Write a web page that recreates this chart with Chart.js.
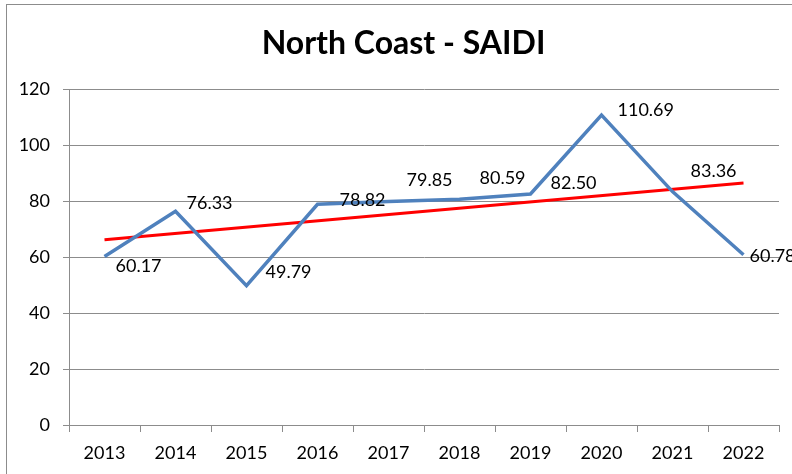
<!DOCTYPE html>
<html>
<head>
<meta charset="utf-8">
<title>North Coast - SAIDI</title>
<script src="https://cdn.jsdelivr.net/npm/chart.js@4/dist/chart.umd.min.js"></script>
<style>
  html, body { margin: 0; padding: 0; background: #fff; }
  canvas { display: block; }
</style>
</head>
<body>
<canvas id="saidiChart" width="792" height="474"></canvas>
<script>
// values
const years = ['2013', '2014', '2015', '2016', '2017', '2018', '2019', '2020', '2021', '2022'];
const saidi = [60.17, 76.33, 49.79, 78.82, 79.85, 80.59, 82.50, 110.69, 83.36, 60.78];
// linear trend line, only its two ends
const trend = [66.2, null, null, null, null, null, null, null, null, 86.4];
const yTicks = [0, 20, 40, 60, 80, 100, 120];

const FONT = 'Lato, "Open Sans", sans-serif';

// label nudges, in pixels from the point (like Excel's hand placed labels)
const labelNudge = [[11, 10], [11, -8], [19, -13], [22, -4], [18, -21], [20, -21], [20, -11], [16, -5], [18, -20], [6, 1]];

const frameAndLabels = {
    id: 'frameAndLabels',
    afterLayout(chart) {
        // centre the title over the whole frame, not just the layout box
        if (chart.titleBlock) {
            chart.titleBlock.left = 15;
            chart.titleBlock.right = 792;
        }
    },
    beforeDraw(chart) {
        const ctx = chart.ctx;
        ctx.save();
        ctx.strokeStyle = '#8c8c8c';
        ctx.lineWidth = 1;
        ctx.strokeRect(6.5, 4.5, 800, 480);
        ctx.restore();
    },
    afterDatasetsDraw(chart) {
        const ctx = chart.ctx;
        const meta = chart.getDatasetMeta(0);
        ctx.save();
        ctx.font = '18px ' + FONT;
        ctx.fillStyle = '#000';
        ctx.textAlign = 'left';
        ctx.textBaseline = 'middle';
        meta.data.forEach(function (pt, i) {
            const n = labelNudge[i];
            ctx.fillText(saidi[i].toFixed(2), pt.x + n[0], pt.y + n[1]);
        });
        ctx.restore();
    }
};

new Chart(document.getElementById('saidiChart').getContext('2d'), {
    type: 'line',
    data: {
        labels: years,
        datasets: [{
            label: 'SAIDI',
            data: saidi,
            borderColor: '#4F81BD',
            borderWidth: 3.5,
            pointRadius: 0,
            tension: 0,
            fill: false,
        }, {
            label: 'Trend',
            data: trend,
            borderColor: '#FF0000',
            borderWidth: 3,
            pointRadius: 0,
            spanGaps: true,
            fill: false,
        }]
    },
    options: {
        responsive: false,
        animation: false,
        layout: { padding: { left: 0, right: 13, top: 0, bottom: 0 } },
        plugins: {
            legend: { display: false },
            tooltip: { enabled: false },
            title: {
                display: true,
                text: 'North Coast - SAIDI',
                color: '#000',
                font: { family: FONT, size: 32, weight: 'bold' },
                padding: { top: 24, bottom: 26.6 }
            }
        },
        scales: {
            x: {
                offset: true,
                grid: { offset: true, drawOnChartArea: false, color: '#8c8c8c', tickLength: 7 },
                border: { color: '#8c8c8c' },
                ticks: { color: '#000', font: { family: FONT, size: 18 }, padding: 10, maxRotation: 0 },
                afterFit(scale) { scale.height = 49; }
            },
            y: {
                min: 0,
                max: 120,
                afterBuildTicks(scale) { scale.ticks = yTicks.map(v => ({ value: v })); },
                grid: { color: '#8c8c8c', tickLength: 6 },
                border: { color: '#8c8c8c' },
                ticks: { color: '#000', font: { family: FONT, size: 18 }, padding: 13 },
                afterFit(scale) { scale.width = 69; }
            }
        }
    },
    plugins: [frameAndLabels]
});
</script>
</body>
</html>
